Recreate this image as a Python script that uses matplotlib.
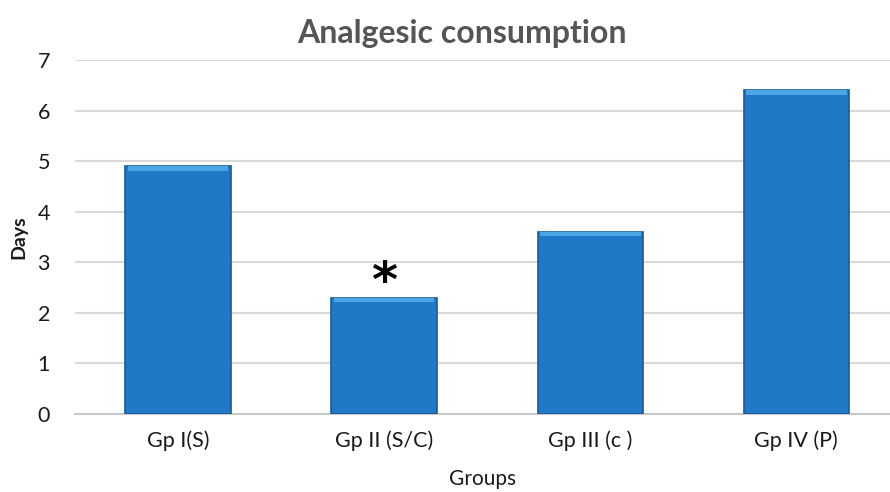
import matplotlib.pyplot as plt

plt.rcParams['font.family'] = ['Lato', 'DejaVu Sans']

groups = ["Gp I(S)", "Gp II (S/C)", "Gp III (c )", "Gp IV (P)"]
days = [4.9, 2.3, 3.6, 6.4]
yticks = [0, 1, 2, 3, 4, 5, 6, 7]
star_group = 1

fig = plt.figure(figsize=(8.9, 4.92), dpi=100)
ax = fig.add_axes([75 / 890, 78 / 492, 815 / 890, 354 / 492])

x = range(len(groups))
ax.bar(x, days, width=0.51, color="#2079c6", edgecolor="#1a5a96", linewidth=1.2, zorder=3)
# lighter top bevel
ax.bar(x, [0.09] * len(days), bottom=[d - 0.09 for d in days], width=0.49,
       color="#4aa5e4", linewidth=0, zorder=4)

ax.text(star_group, days[star_group] + 0.3, "*", ha="center", va="center",
        fontsize=36, fontweight="bold", color="black", fontfamily="DejaVu Sans")

ax.set_xlim(-0.5, 3.456)
ax.set_ylim(0, 7)
ax.set_yticks(yticks)
ax.set_xticks(list(x))
ax.set_xticklabels(groups)
ax.yaxis.grid(True, color="#d9d9d9", linewidth=1.5, zorder=0)
ax.set_axisbelow(True)
for s in ["top", "right", "left"]:
    ax.spines[s].set_visible(False)
ax.spines["bottom"].set_color("#c8c8c8")
ax.spines["bottom"].set_linewidth(1.5)
ax.tick_params(axis="both", length=0, labelsize=15.5, colors="#1a1a1a")
ax.tick_params(axis="x", pad=12)
ax.tick_params(axis="y", pad=18)

ax.set_title("Analgesic consumption", fontsize=23, fontweight="bold", color="#555555",
             pad=12, x=0.475)
ax.set_ylabel("Days", fontsize=14, fontweight="bold", color="#1a1a1a", labelpad=7)
ax.set_xlabel("Groups", fontsize=15, color="#1a1a1a", labelpad=13)

fig.savefig("out.png", dpi=100)
